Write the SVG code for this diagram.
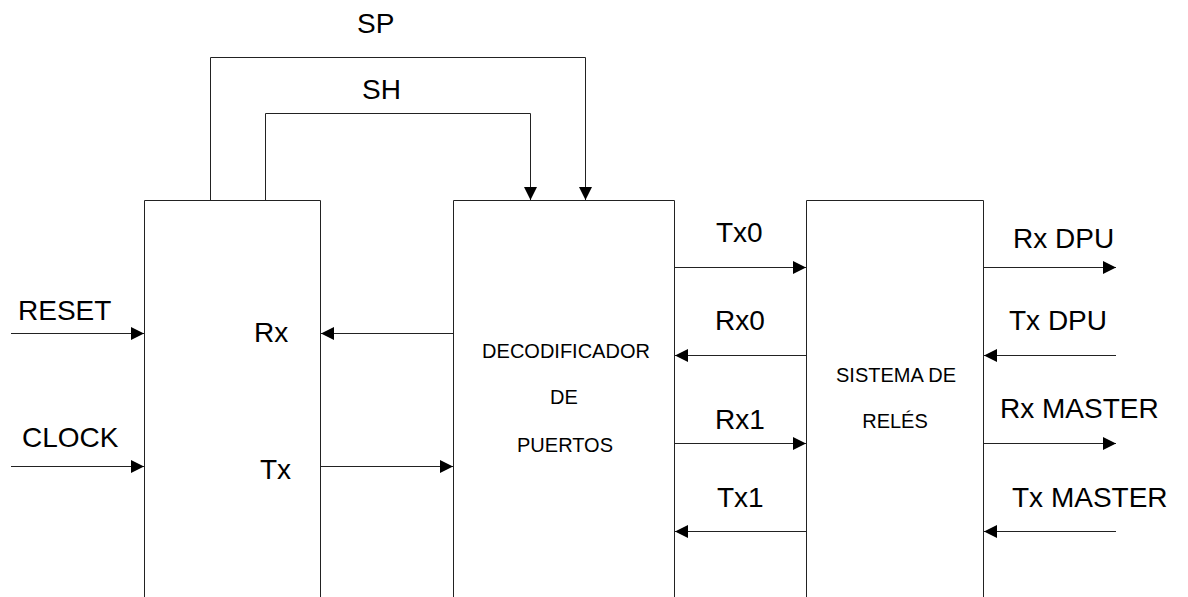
<svg xmlns="http://www.w3.org/2000/svg" width="1188" height="597" viewBox="0 0 1188 597">
<style>
.box{fill:none;stroke:#222;stroke-width:1}
.wire{fill:none;stroke:#222;stroke-width:1}
.lbl{font-family:"Liberation Sans",Arial,sans-serif;font-size:28px;fill:#000}
.inner{font-family:"Liberation Sans",Arial,sans-serif;font-size:20px;fill:#000;text-anchor:middle}
</style>
<defs>
<marker id="arr" markerUnits="userSpaceOnUse" markerWidth="14" markerHeight="14" refX="13" refY="6.5" orient="auto">
<path d="M0,0 L13,6.5 L0,13 Z" fill="#000"/>
</marker>
</defs>
<rect width="1188" height="597" fill="#fff"/>
<g id="control">
<path class="box" d="M144.5,597 V200.5 H320.5 V597"/>
<text class="lbl" x="254" y="342">Rx</text>
<text class="lbl" x="260" y="479">Tx</text>
</g>
<g id="decodificador">
<path class="box" d="M453.5,597 V200.5 H674.5 V597"/>
<text class="inner" x="566" y="358">DECODIFICADOR</text>
<text class="inner" x="564" y="404">DE</text>
<text class="inner" x="565" y="452">PUERTOS</text>
</g>
<g id="reles">
<path class="box" d="M806.5,597 V200.5 H983.5 V597"/>
<text class="inner" x="896" y="382">SISTEMA DE</text>
<text class="inner" x="895" y="428">RELÉS</text>
</g>
<g id="connectors">
<path class="wire" d="M210.5,200.5 V57.5 H585.5 V200" marker-end="url(#arr)"/>
<path class="wire" d="M265.5,200.5 V113.5 H530.5 V200" marker-end="url(#arr)"/>
<path class="wire" d="M11,333.5 H144" marker-end="url(#arr)"/>
<path class="wire" d="M11,466.5 H144" marker-end="url(#arr)"/>
<path class="wire" d="M453,333.5 H321" marker-end="url(#arr)"/>
<path class="wire" d="M321,466.5 H453" marker-end="url(#arr)"/>
<path class="wire" d="M675,267.5 H806" marker-end="url(#arr)"/>
<path class="wire" d="M806,355.5 H675" marker-end="url(#arr)"/>
<path class="wire" d="M675,443.5 H806" marker-end="url(#arr)"/>
<path class="wire" d="M806,531.5 H675" marker-end="url(#arr)"/>
<path class="wire" d="M984,267.5 H1116" marker-end="url(#arr)"/>
<path class="wire" d="M1116,355.5 H984" marker-end="url(#arr)"/>
<path class="wire" d="M984,443.5 H1116" marker-end="url(#arr)"/>
<path class="wire" d="M1116,531.5 H984" marker-end="url(#arr)"/>
</g>
<g id="labels">
<text class="lbl" x="357" y="33">SP</text>
<text class="lbl" x="362" y="99">SH</text>
<text class="lbl" x="18" y="320">RESET</text>
<text class="lbl" x="22" y="447">CLOCK</text>
<text class="lbl" x="716" y="242">Tx0</text>
<text class="lbl" x="715" y="330">Rx0</text>
<text class="lbl" x="715" y="429">Rx1</text>
<text class="lbl" x="717" y="507">Tx1</text>
<text class="lbl" x="1013" y="248">Rx DPU</text>
<text class="lbl" x="1009" y="330">Tx DPU</text>
<text class="lbl" x="1000" y="418">Rx MASTER</text>
<text class="lbl" x="1012" y="507">Tx MASTER</text>
</g>
</svg>
